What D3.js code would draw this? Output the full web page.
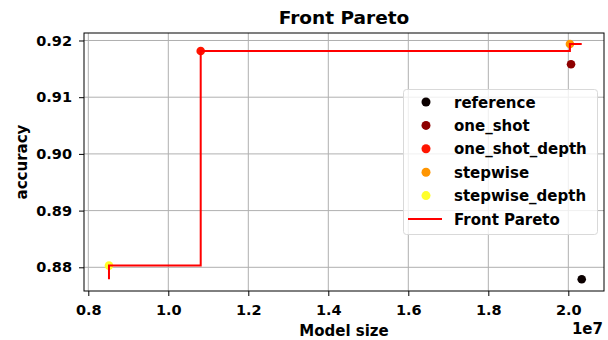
<!DOCTYPE html>
<html>
<head>
<meta charset="utf-8">
<script src="https://cdn.jsdelivr.net/npm/d3@7"></script>
<style>
  html, body { margin: 0; padding: 0; background: #fff; }
  svg { display: block; font-family: "DejaVu Sans", sans-serif; }
</style>
</head>
<body>
<svg id="chart" width="608" height="340"></svg>
<script>
// Series: model size (parameters) vs accuracy
const seriesNames = ["reference", "one_shot", "one_shot_depth", "stepwise", "stepwise_depth"];
const seriesColors = ["#0b0000", "#8e0000", "#ff1500", "#ff9500", "#ffff2a"];
const modelSize = [2.0335e7, 2.0068e7, 1.081e7, 2.004e7, 0.8517e7];
const accuracy = [0.87788, 0.91580, 0.91815, 0.91938, 0.88030];

// Pareto front vertices (drawn as a post-step line)
const frontSize = [0.8517e7, 0.8517e7, 1.081e7, 2.004e7, 2.0335e7];
const frontAcc = [0.8779, 0.8803, 0.91815, 0.91938, 0.91938];

const xTicks = [0.8e7, 1.0e7, 1.2e7, 1.4e7, 1.6e7, 1.8e7, 2.0e7];
const xTickLabels = ["0.8", "1.0", "1.2", "1.4", "1.6", "1.8", "2.0"];
const yTicks = [0.88, 0.89, 0.90, 0.91, 0.92];
const yTickLabels = ["0.88", "0.89", "0.90", "0.91", "0.92"];

const svg = d3.select("#chart");
const plot = { left: 84, right: 604, top: 33, bottom: 291 };

const x = d3.scaleLinear().domain([0.78925e7, 2.0892e7]).range([plot.left, plot.right]);
const y = d3.scaleLinear().domain([0.87582, 0.92132]).range([plot.bottom, plot.top]);

// grid
const grid = svg.append("g").attr("stroke", "#b0b0b0").attr("stroke-width", 1);
xTicks.forEach(t => grid.append("line")
  .attr("x1", x(t)).attr("x2", x(t)).attr("y1", plot.top).attr("y2", plot.bottom));
yTicks.forEach(t => grid.append("line")
  .attr("x1", plot.left).attr("x2", plot.right).attr("y1", y(t)).attr("y2", y(t)));

// axes
const xAxis = d3.axisBottom(x).tickValues(xTicks)
  .tickFormat((d, i) => xTickLabels[i]).tickSize(5).tickPadding(9);
const yAxis = d3.axisLeft(y).tickValues(yTicks)
  .tickFormat((d, i) => yTickLabels[i]).tickSize(5).tickPadding(7);

const gx = svg.append("g").attr("transform", `translate(0,${plot.bottom})`).call(xAxis);
const gy = svg.append("g").attr("transform", `translate(${plot.left},0)`).call(yAxis);
[gx, gy].forEach(g => {
  g.select(".domain").remove();
  g.selectAll(".tick line").attr("stroke", "#000").attr("stroke-width", 1);
  g.selectAll(".tick text").attr("fill", "#000")
    .style("font-size", "14.5px").style("font-weight", "bold")
    .style("font-family", "'DejaVu Sans', sans-serif");
});

// scatter points
const pts = seriesNames.map((n, i) => ({ name: n, color: seriesColors[i], s: modelSize[i], a: accuracy[i] }));
svg.append("g").selectAll("circle").data(pts).join("circle")
  .attr("cx", d => x(d.s)).attr("cy", d => y(d.a)).attr("r", 4.3)
  .attr("fill", d => d.color);

// front line
const front = frontSize.map((s, i) => [s, frontAcc[i]]);
svg.append("path")
  .attr("d", d3.line().x(d => x(d[0])).y(d => y(d[1])).curve(d3.curveStepAfter)(front))
  .attr("fill", "none").attr("stroke", "#ff0000").attr("stroke-width", 2);

// frame
svg.append("rect")
  .attr("x", plot.left).attr("y", plot.top)
  .attr("width", plot.right - plot.left).attr("height", plot.bottom - plot.top)
  .attr("fill", "none").attr("stroke", "#000").attr("stroke-width", 1);

// titles
svg.append("text").attr("x", (plot.left + plot.right) / 2).attr("y", 24)
  .attr("text-anchor", "middle").style("font-size", "18.5px").style("font-weight", "bold")
  .text("Front Pareto");
svg.append("text").attr("x", (plot.left + plot.right) / 2).attr("y", 336)
  .attr("text-anchor", "middle").style("font-size", "15px").style("font-weight", "bold")
  .text("Model size");
svg.append("text").attr("x", 603).attr("y", 334)
  .attr("text-anchor", "end").style("font-size", "15px").style("font-weight", "bold")
  .text("1e7");
svg.append("text")
  .attr("transform", `translate(27,${(plot.top + plot.bottom) / 2}) rotate(-90)`)
  .attr("text-anchor", "middle").style("font-size", "15px").style("font-weight", "bold")
  .text("accuracy");

// legend
const lg = svg.append("g");
lg.append("rect").attr("x", 403.5).attr("y", 89.5).attr("width", 194).attr("height", 145)
  .attr("rx", 3).attr("fill", "#fff").attr("fill-opacity", 0.8)
  .attr("stroke", "#d9d9d9").attr("stroke-width", 1);
const rowY = i => 102 + i * 23.4;
pts.forEach((d, i) => {
  lg.append("circle").attr("cx", 426).attr("cy", rowY(i)).attr("r", 4.5).attr("fill", d.color);
  lg.append("text").attr("x", 454).attr("y", rowY(i) + 5.5)
    .style("font-size", "15px").style("font-weight", "bold").text(d.name);
});
lg.append("line").attr("x1", 408).attr("x2", 442).attr("y1", rowY(5)).attr("y2", rowY(5))
  .attr("stroke", "#ff0000").attr("stroke-width", 2);
lg.append("text").attr("x", 454).attr("y", rowY(5) + 5.5)
  .style("font-size", "15px").style("font-weight", "bold").text("Front Pareto");
</script>
</body>
</html>
